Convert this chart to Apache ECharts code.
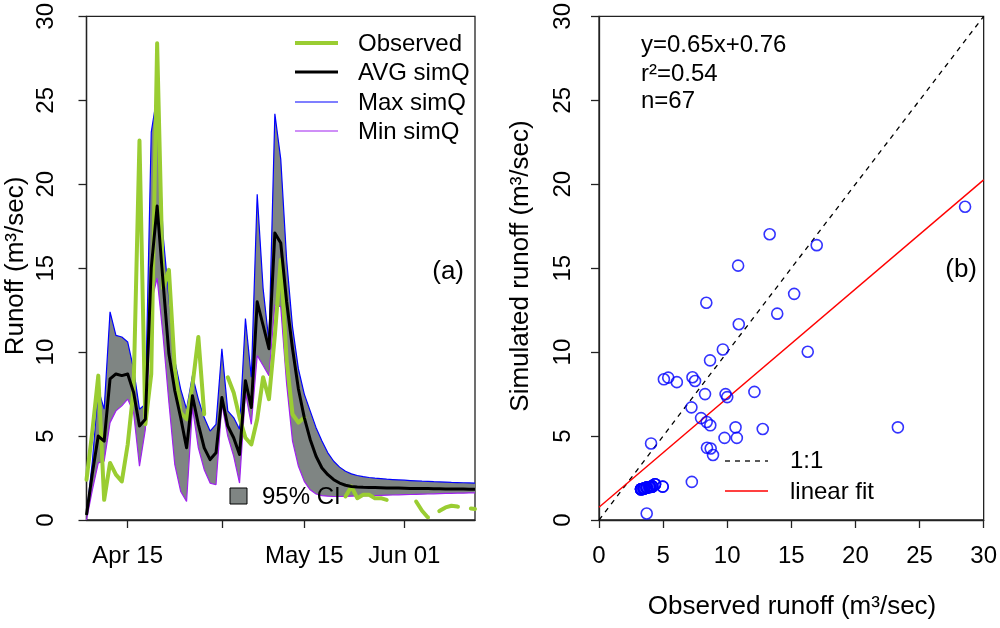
<!DOCTYPE html>
<html>
<head>
<meta charset="utf-8">
<script src="https://cdn.jsdelivr.net/npm/echarts@6/dist/echarts.min.js"></script>
<style>
html,body{margin:0;padding:0;background:#fff;}
#chart{width:1000px;height:628px;}
</style>
</head>
<body>
<div id="chart"></div>
<script>
// ---------- data ----------
// daily dates Apr 08 .. Jun 13 (67 days)
const monthNames = ["Apr", "May", "Jun"];
const monthDays = [30, 31, 30];
const startDay = 8;
const nDays = 67;
const dates = [];
(function () {
  let m = 0, d = startDay;
  for (let i = 0; i < nDays; i++) {
    dates.push(monthNames[m] + " " + (d < 10 ? "0" + d : "" + d));
    d++;
    if (d > monthDays[m]) { m++; d = 1; }
  }
})();
const tickDates = ["Apr 15", "May 01", "May 15", "Jun 01"];
const tickLabels = ["Apr 15", "", "May 15", "Jun 01"];

const avgSimQ = [0.3, 2.8, 5.0, 4.7, 8.4, 8.7, 8.6, 8.7, 7.6, 5.6,
  6.0, 15.0, 18.7, 14.2, 9.9, 7.7, 6.1, 4.3, 7.4, 5.7,
  4.3, 3.6, 4.0, 7.3, 5.6, 4.9, 3.9, 8.3, 6.7, 13.0,
  11.6, 10.2, 17.1, 16.5, 13.0, 10.2, 7.8, 6.1, 4.8, 3.8,
  3.1, 2.7, 2.4, 2.2, 2.07, 2.0, 1.97, 1.95, 1.94, 1.93,
  1.92, 1.91, 1.9, 1.9, 1.89, 1.88, 1.88, 1.87, 1.87, 1.86,
  1.86, 1.85, 1.85, 1.84, 1.84, 1.83, 1.83];

const maxSimQ = [0.3, 3.5, 7.8, 6.6, 12.4, 11.0, 10.9, 10.6, 9.0, 6.6,
  6.9, 23.1, 25.3, 17.0, 13.2, 9.5, 7.8, 6.6, 8.6, 7.2,
  6.1, 5.3, 5.7, 10.2, 6.5, 6.1, 5.4, 12.0, 8.5, 19.4,
  13.8, 10.6, 24.2, 21.5, 15.5, 11.5, 9.0, 7.5, 6.5, 5.5,
  4.7, 4.0, 3.5, 3.15, 2.9, 2.75, 2.65, 2.58, 2.53, 2.49,
  2.46, 2.43, 2.41, 2.39, 2.37, 2.35, 2.33, 2.31, 2.3, 2.28,
  2.27, 2.26, 2.24, 2.23, 2.22, 2.21, 2.2];

const minSimQ = [0.0, 1.8, 3.4, 3.5, 5.8, 6.5, 6.8, 7.2, 6.4, 3.2,
  5.4, 13.0, 14.4, 11.0, 7.0, 3.3, 1.7, 1.1, 6.7, 4.3,
  3.0, 2.2, 2.1, 6.9, 5.0, 3.8, 2.2, 7.6, 5.7, 9.8,
  9.2, 8.6, 12.8, 12.7, 8.1, 4.7, 3.2, 2.3, 1.8, 1.55,
  1.45, 1.42, 1.4, 1.4, 1.41, 1.42, 1.43, 1.44, 1.45, 1.46,
  1.47, 1.48, 1.49, 1.5, 1.51, 1.52, 1.53, 1.54, 1.55, 1.56,
  1.57, 1.58, 1.59, 1.6, 1.6, 1.61, 1.62];

const observed = [2.4, 5.3, 8.6, 1.2, 3.4, 2.7, 2.3, 4.5, 7.8, 22.6,
  5.7, 8.7, 28.4, 13.8, 14.9, 9.0, 6.4, 6.0, 8.0, 10.9,
  6.3, null, null, null, 8.5, 7.6, 6.1, 4.9, 4.5, 6.0,
  8.5, 7.2, 11.0, 15.5, 9.5, 6.3, 5.8, 6.1, null, null,
  null, null, null, null, 1.4, 2.0, 1.3, 1.5, 1.5, 1.3,
  1.3, 1.2, null, null, null, null, null, null, null, null,
  null, null, null, null, null, null, null];

const observedDashed = [null, null, null, null, null, null, null, null, null, null,
  null, null, null, null, null, null, null, null, null, null,
  null, null, null, null, null, null, null, null, null, null,
  null, null, null, null, null, null, null, null, null, null,
  null, null, null, null, null, null, null, null, null, null,
  null, null, null, null, null, null, 1.1, 0.55, 0.15, 0.3,
  0.55, 0.75, 0.85, 0.8, 0.75, 0.7, 0.65];

// scatter: observed runoff (x) vs simulated runoff (y)
const scatterObs = [28.55, 13.31, 16.98, 10.85, 15.22, 8.37, 13.90, 10.90, 9.66, 16.28,
  8.66, 5.06, 5.40, 6.07, 7.29, 7.49, 8.27, 9.87, 10.0, 12.12,
  7.21, 7.96, 8.40, 8.68, 10.65, 12.77, 23.31, 4.06, 9.79, 10.75,
  8.42, 8.71, 8.89, 7.24, 3.72,
  3.28, 3.28, 3.28, 3.28, 3.28, 3.5, 3.5, 3.5, 3.5, 3.5,
  3.72, 3.72, 3.72, 3.72, 3.72, 3.95, 3.95, 3.95, 3.95, 4.15,
  4.15, 4.15, 4.15, 4.37, 4.37, 4.37, 4.97, 4.97, 3.4, 3.6,
  3.85, 4.05];
const scatterSim = [18.66, 17.02, 16.37, 15.15, 13.47, 12.94, 12.29, 11.66, 10.16, 10.02,
  9.51, 8.38, 8.48, 8.21, 8.50, 8.28, 7.50, 7.50, 7.32, 7.63,
  6.71, 6.07, 5.84, 5.64, 5.52, 5.42, 5.52, 4.56, 4.89, 4.89,
  4.30, 4.26, 3.87, 2.27, 0.39,
  1.83, 1.83, 1.83, 1.83, 1.83, 1.88, 1.88, 1.88, 1.88, 1.88,
  1.93, 1.93, 1.93, 1.93, 1.93, 1.97, 1.97, 1.97, 1.97, 2.0,
  2.0, 2.0, 2.0, 2.13, 2.13, 2.13, 1.99, 1.99, 1.85, 1.9,
  1.95, 1.98];

const fitSlope = 0.65;
const fitIntercept = 0.76;
const axisMin = 0, axisMax = 30, axisStep = 5;

// ---------- chart ----------
const FONT = "Liberation Sans, Arial, Helvetica, sans-serif";
const GREEN = "#9ACD32", BLUE = "#0000FF", PURPLE = "#A020F0", GRAY = "#7f8583", RED = "#FF0000";

const bandDiff = maxSimQ.map((v, i) => +(v - minSimQ[i]).toFixed(3));
const scatterData = scatterObs.map((x, i) => [x, scatterSim[i]]);
const oneToOne = [[axisMin, axisMin], [axisMax, axisMax]];
const fitLine = [[axisMin, fitIntercept + fitSlope * axisMin], [axisMax, fitIntercept + fitSlope * axisMax]];

const chart = echarts.init(document.getElementById("chart"), null, { renderer: "canvas" });

const axisLineStyle = { show: true, lineStyle: { color: "#222", width: 1.3 } };
const tickStyle = { show: true, inside: false, length: 8, lineStyle: { color: "#222", width: 1.3 } };
const labelBase = { color: "#000", fontSize: 24, fontFamily: FONT };

function valueAxis(grid, isY, margin) {
  const ax = {
    type: "value", gridIndex: grid, min: axisMin, max: axisMax, interval: axisStep,
    axisLine: axisLineStyle, axisTick: tickStyle, splitLine: { show: false },
    axisLabel: Object.assign({}, labelBase, { margin: margin })
  };
  if (isY) ax.axisLabel.rotate = 90;
  return ax;
}

const option = {
  backgroundColor: "#fff",
  animation: false,
  textStyle: { fontFamily: FONT },
  grid: [
    { left: 86.5, top: 13, width: 388.5, height: 507, show: true, borderColor: "#222", borderWidth: 1.3, backgroundColor: "transparent" },
    { left: 599, top: 13, width: 387.5, height: 507, show: true, borderColor: "#222", borderWidth: 1.3, backgroundColor: "transparent" }
  ],
  xAxis: [
    {
      type: "category", gridIndex: 0, data: dates, boundaryGap: false,
      axisLine: axisLineStyle,
      axisTick: Object.assign({}, tickStyle, { interval: (i, v) => tickDates.indexOf(v) >= 0 }),
      axisLabel: Object.assign({}, labelBase, {
        margin: 24,
        interval: (i, v) => tickDates.indexOf(v) >= 0,
        formatter: v => { const k = tickDates.indexOf(v); return k >= 0 ? tickLabels[k] : ""; }
      }),
      splitLine: { show: false }
    },
    valueAxis(1, false, 24)
  ],
  yAxis: [valueAxis(0, true, 28), valueAxis(1, true, 24)],
  series: [
    { name: "minBase", type: "line", xAxisIndex: 0, yAxisIndex: 0, data: minSimQ, stack: "ci", symbol: "none", silent: true,
      lineStyle: { opacity: 0 }, z: 1 },
    { name: "95% CI", type: "line", xAxisIndex: 0, yAxisIndex: 0, data: bandDiff, stack: "ci", symbol: "none", silent: true,
      lineStyle: { opacity: 0 }, areaStyle: { color: GRAY, opacity: 1 }, z: 1 },
    { name: "Max simQ", type: "line", xAxisIndex: 0, yAxisIndex: 0, data: maxSimQ, symbol: "none",
      lineStyle: { color: BLUE, width: 1.2 }, z: 2 },
    { name: "Min simQ", type: "line", xAxisIndex: 0, yAxisIndex: 0, data: minSimQ, symbol: "none",
      lineStyle: { color: PURPLE, width: 1.2 }, z: 2 },
    { name: "Observed", type: "line", xAxisIndex: 0, yAxisIndex: 0, data: observed, symbol: "none", connectNulls: false,
      lineStyle: { color: GREEN, width: 4, join: "round", cap: "round" }, z: 3 },
    { name: "Observed (dashed)", type: "line", xAxisIndex: 0, yAxisIndex: 0, data: observedDashed, symbol: "none", connectNulls: false,
      lineStyle: { color: GREEN, width: 4, type: [20, 13], cap: "round" }, z: 3 },
    { name: "AVG simQ", type: "line", xAxisIndex: 0, yAxisIndex: 0, data: avgSimQ, symbol: "none",
      lineStyle: { color: "#000", width: 3, join: "round" }, z: 4 },
    { name: "scatter", type: "scatter", xAxisIndex: 1, yAxisIndex: 1, data: scatterData, symbol: "circle", symbolSize: 11,
      itemStyle: { color: "rgba(0,0,0,0)", borderColor: BLUE, borderWidth: 1.6 }, z: 3 },
    { name: "1:1", type: "line", xAxisIndex: 1, yAxisIndex: 1, data: oneToOne, symbol: "none",
      lineStyle: { color: "#000", width: 1.3, type: [5, 5] }, z: 2 },
    { name: "linear fit", type: "line", xAxisIndex: 1, yAxisIndex: 1, data: fitLine, symbol: "none",
      lineStyle: { color: RED, width: 1.4 }, z: 2 }
  ],
  graphic: [
    // axis titles
    { type: "text", x: 16, y: 266, rotation: Math.PI / 2, style: { text: "Runoff (m³/sec)", font: "26px " + FONT, fill: "#000", textAlign: "center", textVerticalAlign: "middle" } },
    { type: "text", x: 521, y: 266, rotation: Math.PI / 2, style: { text: "Simulated runoff (m³/sec)", font: "26px " + FONT, fill: "#000", textAlign: "center", textVerticalAlign: "middle" } },
    { type: "text", x: 792, y: 607, style: { text: "Observed runoff (m³/sec)", font: "26px " + FONT, fill: "#000", textAlign: "center", textVerticalAlign: "middle" } },
    // legend (a)
    { type: "line", shape: { x1: 295, y1: 43, x2: 338, y2: 43 }, style: { stroke: GREEN, lineWidth: 4 } },
    { type: "line", shape: { x1: 295, y1: 72, x2: 338, y2: 72 }, style: { stroke: "#000", lineWidth: 3 } },
    { type: "line", shape: { x1: 295, y1: 102, x2: 338, y2: 102 }, style: { stroke: BLUE, lineWidth: 1.2 } },
    { type: "line", shape: { x1: 295, y1: 131, x2: 338, y2: 131 }, style: { stroke: PURPLE, lineWidth: 1.2 } },
    { type: "text", x: 358, y: 44, style: { text: "Observed", font: "24px " + FONT, fill: "#000", textVerticalAlign: "middle" } },
    { type: "text", x: 358, y: 73, style: { text: "AVG simQ", font: "24px " + FONT, fill: "#000", textVerticalAlign: "middle" } },
    { type: "text", x: 358, y: 103, style: { text: "Max simQ", font: "24px " + FONT, fill: "#000", textVerticalAlign: "middle" } },
    { type: "text", x: 358, y: 132, style: { text: "Min simQ", font: "24px " + FONT, fill: "#000", textVerticalAlign: "middle" } },
    { type: "text", x: 464, y: 272, style: { text: "(a)", font: "26px " + FONT, fill: "#000", textAlign: "right", textVerticalAlign: "middle" } },
    // 95% CI
    { type: "rect", shape: { x: 230, y: 488, width: 17, height: 16 }, style: { fill: GRAY, stroke: "#000", lineWidth: 1 }, z: 10 },
    { type: "text", x: 262, y: 497, style: { text: "95% CI", font: "24px " + FONT, fill: "#000", textVerticalAlign: "middle" }, z: 10 },
    // panel (b) annotations
    { type: "text", x: 641, y: 45, style: { text: "y=0.65x+0.76", font: "24px " + FONT, fill: "#000", textVerticalAlign: "middle" } },
    { type: "text", x: 641, y: 74, style: { text: "r²=0.54", font: "24px " + FONT, fill: "#000", textVerticalAlign: "middle" } },
    { type: "text", x: 641, y: 101, style: { text: "n=67", font: "24px " + FONT, fill: "#000", textVerticalAlign: "middle" } },
    { type: "text", x: 977, y: 270, style: { text: "(b)", font: "26px " + FONT, fill: "#000", textAlign: "right", textVerticalAlign: "middle" } },
    { type: "line", shape: { x1: 725, y1: 461, x2: 768, y2: 461 }, style: { stroke: "#000", lineWidth: 1.3, lineDash: [5, 5] } },
    { type: "line", shape: { x1: 725, y1: 491, x2: 768, y2: 491 }, style: { stroke: RED, lineWidth: 1.4 } },
    { type: "text", x: 790, y: 461, style: { text: "1:1", font: "24px " + FONT, fill: "#000", textVerticalAlign: "middle" } },
    { type: "text", x: 790, y: 492, style: { text: "linear fit", font: "24px " + FONT, fill: "#000", textVerticalAlign: "middle" } }
  ]
};
chart.setOption(option);
</script>
</body>
</html>
